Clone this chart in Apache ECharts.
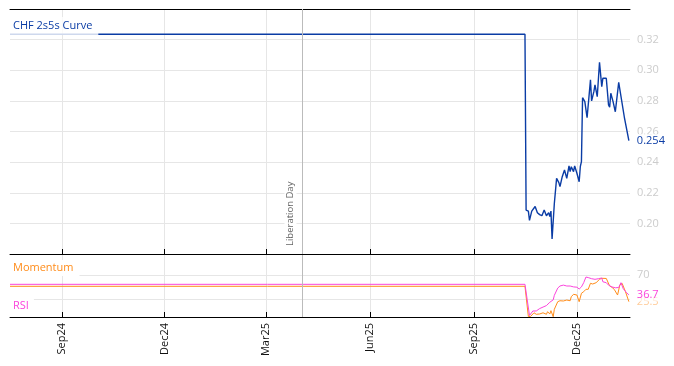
<!DOCTYPE html>
<html><head><meta charset="utf-8">
<script src="https://cdn.jsdelivr.net/npm/echarts@6/dist/echarts.min.js"></script>
<style>html,body{margin:0;padding:0;background:#fff}#c{width:674px;height:366px}</style>
</head><body><div id="c"></div>
<script>
// ---- data ----
const curveDates = ['2024-07-17','2025-10-16','2025-10-17','2025-10-19','2025-10-20','2025-10-22','2025-10-25','2025-10-27','2025-10-29','2025-10-31','2025-11-02','2025-11-04','2025-11-06','2025-11-07','2025-11-08','2025-11-09','2025-11-11','2025-11-13','2025-11-15','2025-11-16','2025-11-18','2025-11-19','2025-11-20','2025-11-22','2025-11-24','2025-11-25','2025-11-26','2025-11-28','2025-11-29','2025-12-01','2025-12-03','2025-12-04','2025-12-05','2025-12-06','2025-12-08','2025-12-10','2025-12-13','2025-12-14','2025-12-16','2025-12-17','2025-12-19','2025-12-21','2025-12-23','2025-12-24','2025-12-27','2025-12-29','2025-12-30','2025-12-31','2026-01-02','2026-01-04','2026-01-07','2026-01-08','2026-01-12','2026-01-13','2026-01-16'];
const curveValues = [0.3235,0.3235,0.2087,0.208,0.202,0.208,0.211,0.207,0.2057,0.205,0.2087,0.205,0.207,0.2044,0.208,0.1898,0.213,0.2294,0.2266,0.224,0.2305,0.230,0.2349,0.2294,0.2375,0.2338,0.237,0.2338,0.2375,0.2327,0.2272,0.237,0.2403,0.2821,0.2795,0.269,0.2937,0.28,0.286,0.2904,0.2827,0.3052,0.2893,0.2948,0.2948,0.2773,0.2758,0.285,0.2795,0.2729,0.2921,0.2915,0.2693,0.2693,0.254];

const rsiDates = ['2024-07-17','2025-10-16','2025-10-20','2025-10-23','2025-10-26','2025-10-29','2025-11-01','2025-11-04','2025-11-07','2025-11-10','2025-11-11','2025-11-14','2025-11-16','2025-11-19','2025-11-22','2025-11-25','2025-11-28','2025-12-01','2025-12-03','2025-12-05','2025-12-07','2025-12-09','2025-12-11','2025-12-14','2025-12-17','2025-12-20','2025-12-23','2025-12-24','2025-12-27','2025-12-29','2026-01-01','2026-01-04','2026-01-07','2026-01-09','2026-01-11','2026-01-14','2026-01-16'];
const rsiValues = [54.3,54.3,2.5,10,10,14,16.5,19,24.5,28.5,36,48,51.5,53,51.5,51.5,50,49.5,46.5,50,57,66.4,65.5,63.6,62.6,63.6,64.8,58.5,57,53,50,48.5,49,57,47,40.4,36.7];

const momDates = ['2024-07-17','2025-10-16','2025-10-19','2025-10-21','2025-10-24','2025-10-26','2025-10-29','2025-11-01','2025-11-04','2025-11-05','2025-11-07','2025-11-08','2025-11-10','2025-11-11','2025-11-14','2025-11-16','2025-11-19','2025-11-22','2025-11-25','2025-11-26','2025-11-28','2025-12-01','2025-12-03','2025-12-05','2025-12-07','2025-12-09','2025-12-11','2025-12-13','2025-12-15','2025-12-18','2025-12-21','2025-12-23','2025-12-24','2025-12-27','2025-12-30','2026-01-01','2026-01-03','2026-01-06','2026-01-08','2026-01-10','2026-01-13','2026-01-16'];
const momValues = [51,51,0.5,1,7,4.5,5,7,4.5,8.8,5,10.5,0.5,12.8,25.4,27,26.6,28.2,27,33.7,37.7,36.5,25.4,39.4,42,46,46,56,54.8,57,62.6,64.3,61.5,64,51.5,49.3,46,36.5,53.2,56,42,25.5];

const tickDates = ['2024-09-01','2024-12-01','2025-03-01','2025-06-01','2025-09-01','2025-12-01'];
const xStart = '2024-07-17', xEnd = '2026-01-17';
const eventDate = '2025-04-02', eventLabel = 'Liberation Day';
const curveName = 'CHF 2s5s Curve', momName = 'Momentum', rsiName = 'RSI';
const rsiGuides = [30, 70];
const rsiLabelValues = [70];

// ---- helpers ----
function ts(s){ const p = s.split('-').map(Number); return new Date(p[0], p[1]-1, p[2]).getTime(); }
const MONTHS = ['Jan','Feb','Mar','Apr','May','Jun','Jul','Aug','Sep','Oct','Nov','Dec'];
function fmt(v){ const d = new Date(v); return MONTHS[d.getMonth()] + String(d.getFullYear()).slice(2); }
const tickTs = tickDates.map(ts);
const FONT = 'Open Sans';
const BLUE = '#0a3ca5', PINK = '#fb44dc', ORANGE = '#ff8c1a';

const chart = echarts.init(document.getElementById('c'), null, {renderer: 'canvas'});
const baseX = {
  type: 'value', min: ts(xStart), max: ts(xEnd),
  axisLine: {show: true, onZero: false, lineStyle: {color: '#000', width: 1}},
  axisTick: {show: true, inside: true, length: 5, lineStyle: {color: '#000'}, customValues: tickTs},
  axisLabel: {show: false, customValues: tickTs},
  splitLine: {show: true, lineStyle: {color: '#e6e6e6', width: 1}}
};
chart.setOption({
  animation: false,
  backgroundColor: '#fff',
  textStyle: {fontFamily: FONT},
  title: [
    {text: curveName, left: 10, top: 17, padding: [3, 6, 4, 3], backgroundColor: 'rgba(255,255,255,0.8)',
     textStyle: {color: BLUE, fontSize: 11, fontWeight: 'normal', fontFamily: FONT}},
    {text: momName, left: 10, top: 260, padding: [2, 6, 3, 3], backgroundColor: '#fff',
     textStyle: {color: ORANGE, fontSize: 11, fontWeight: 'normal', fontFamily: FONT}},
    {text: rsiName, left: 10, top: 298, padding: [2, 5, 2, 3], backgroundColor: '#fff',
     textStyle: {color: PINK, fontSize: 11, fontWeight: 'normal', fontFamily: FONT}}
  ],
  grid: [
    {left: 10, right: 44, top: 9, height: 245},
    {left: 10, right: 44, top: 255, height: 62}
  ],
  xAxis: [
    Object.assign({}, baseX, {gridIndex: 0, position: 'bottom'}),
    {gridIndex: 0, type: 'value', min: ts(xStart), max: ts(xEnd), position: 'top',
     axisLine: {show: true, onZero: false, lineStyle: {color: '#000'}}, axisTick: {show: false}, axisLabel: {show: false}, splitLine: {show: false}},
    Object.assign({}, baseX, {gridIndex: 1, position: 'bottom',
      axisLabel: {show: true, customValues: tickTs, rotate: 90, margin: 6, color: '#111', fontSize: 11, fontFamily: FONT, formatter: fmt}})
  ],
  yAxis: [
    {gridIndex: 0, type: 'value', position: 'right', min: 0.18, max: 0.34, interval: 0.02,
     axisLine: {show: false}, axisTick: {show: false},
     axisLabel: {color: '#cccccc', fontSize: 11, margin: 7, showMinLabel: false, showMaxLabel: false, formatter: v => v.toFixed(2)},
     splitLine: {show: true, lineStyle: {color: '#e6e6e6'}}},
    {gridIndex: 1, type: 'value', position: 'right', min: 0, max: 103,
     axisLine: {show: false}, axisTick: {show: false},
     axisLabel: {color: '#cccccc', fontSize: 11, margin: 7, customValues: rsiLabelValues},
     splitLine: {show: false}}
  ],
  series: [
    {name: curveName, type: 'line', xAxisIndex: 0, yAxisIndex: 0, showSymbol: false,
     data: curveDates.map((d, i) => [ts(d), curveValues[i]]),
     lineStyle: {color: BLUE, width: 1.4}, itemStyle: {color: BLUE},
     endLabel: {show: true, formatter: p => p.value[1].toFixed(3), color: BLUE, fontSize: 11, backgroundColor: '#fff', padding: [1, 2], distance: 6},
     markLine: {silent: true, symbol: ['none', 'none'], animation: false,
       lineStyle: {color: '#bbbbbb', type: 'solid', width: 1},
       label: {show: true, formatter: eventLabel, position: 'insideStartTop', color: '#666', fontSize: 9.5, backgroundColor: '#fff', padding: [1, 2], distance: 6},
       data: [{xAxis: ts(eventDate)}]}},
    {name: momName, type: 'line', xAxisIndex: 2, yAxisIndex: 1, showSymbol: false,
     data: momDates.map((d, i) => [ts(d), momValues[i]]),
     lineStyle: {color: ORANGE, width: 1}, itemStyle: {color: ORANGE},
     endLabel: {show: true, formatter: p => p.value[1].toFixed(1), color: 'rgba(255,140,26,0.45)', fontSize: 11, padding: [1, 2], distance: 6},
     markLine: {silent: true, symbol: ['none', 'none'], animation: false, z: 1,
       lineStyle: {color: '#e6e6e6', type: 'solid', width: 1}, label: {show: false},
       data: rsiGuides.map(v => ({yAxis: v}))}},
    {name: rsiName, type: 'line', xAxisIndex: 2, yAxisIndex: 1, showSymbol: false,
     data: rsiDates.map((d, i) => [ts(d), rsiValues[i]]),
     lineStyle: {color: PINK, width: 1}, itemStyle: {color: PINK},
     endLabel: {show: true, formatter: p => p.value[1].toFixed(1), color: PINK, fontSize: 11, backgroundColor: 'rgba(255,255,255,0.6)', padding: [1, 2], distance: 6},
     markLine: {silent: true, symbol: ['none', 'none'], animation: false,
       lineStyle: {color: '#bbbbbb', type: 'solid', width: 1}, label: {show: false},
       data: [{xAxis: ts(eventDate)}]}}
  ]
});
</script></body></html>
